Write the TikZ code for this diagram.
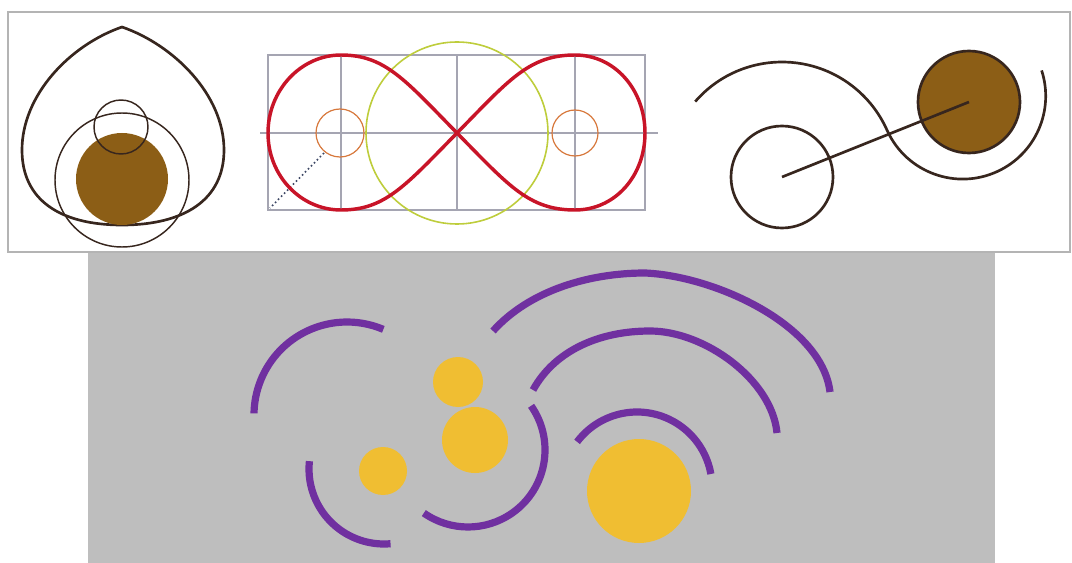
\documentclass[tikz,border=0pt]{standalone}
\definecolor{dkbrown}{RGB}{55,38,30}
\definecolor{brownfill}{RGB}{140,94,22}
\definecolor{gridc}{RGB}{165,165,178}
\definecolor{purp}{RGB}{112,48,160}
\definecolor{yel}{RGB}{240,190,50}
\definecolor{framec}{RGB}{180,180,180}
\definecolor{bgc}{RGB}{190,190,190}
\definecolor{greenc}{RGB}{190,205,60}
\definecolor{orangec}{RGB}{215,120,60}
\definecolor{dotc}{RGB}{60,70,100}
\definecolor{redc}{RGB}{200,20,40}
\begin{document}
\begin{tikzpicture}[x=0.75pt,y=-0.75pt,
  thick1/.style={draw=dkbrown,line width=2pt},
  thin1/.style={draw=dkbrown,line width=1.1pt},
  grid/.style={draw=gridc,line width=0.9pt},
  purpline/.style={draw=purp,line width=5.4pt},
  yelfill/.style={fill=yel}]
\useasboundingbox (0,0) rectangle (1072,563);
% frames
\draw[draw=framec,line width=0.8pt] (8,12) rectangle (1070,252);
\fill[bgc] (88,253) rectangle (995,563);

% ---- panel 1
\draw[thick1] (122,27) .. controls (70,45) and (22,95) .. (22,150)
  .. controls (22,200) and (60,225) .. (122,225)
  .. controls (184,225) and (224,200) .. (224,150)
  .. controls (224,95) and (174,45) .. (122,27) -- cycle;
\draw[thin1] (122,180) circle[radius=67];
\fill[brownfill] (122,179) circle[radius=46];
\draw[thin1] (121,127) circle[radius=27];

% ---- panel 2
\draw[grid] (268,55) rectangle (645,210);
\foreach \gx in {341,457,575} \draw[grid] (\gx,55) -- (\gx,210);
\draw[grid] (260,133) -- (658,133);
\draw[draw=greenc,line width=1.2pt] (457,133) circle[radius=91];
\draw[draw=orangec,line width=0.9pt] (340,133) circle[radius=24];
\draw[draw=orangec,line width=0.9pt] (575,133) circle[radius=23];
\draw[draw=dotc,line width=1.2pt,dotted] (324,153) -- (270,208);
\draw[draw=redc,line width=2.6pt]
  (457,133) .. controls (405,80) and (385,55) .. (341,55)
  .. controls (301,55) and (268,90) .. (268,133)
  .. controls (268,176) and (301,210) .. (341,210)
  .. controls (385,210) and (405,186) .. (457,133)
  .. controls (509,80) and (529,55) .. (575,55)
  .. controls (615,55) and (645,90) .. (645,133)
  .. controls (645,176) and (615,210) .. (575,210)
  .. controls (529,210) and (509,186) .. (457,133);

% ---- panel 3
\coordinate (sc) at (782,177);
\coordinate (bc) at (969,102);
\draw[thick1] ([shift={(-139:115)}]sc) arc[start angle=-139, end angle=-23.5, radius=115]
  arc[start angle=155, end angle=-18, radius=83];
\fill[brownfill] (bc) circle[radius=51];
\draw[thick1] (bc) circle[radius=51];
\draw[thick1] (sc) circle[radius=51];
\draw[thick1] (sc) -- (bc);

% ---- bottom panel
\fill[yelfill] (458,382) circle[radius=25];
\fill[yelfill] (475,440) circle[radius=33];
\fill[yelfill] (383,471) circle[radius=24];
\fill[yelfill] (639,491) circle[radius=52];
\draw[purpline] ([shift={(-179:93)}]347,415) arc[start angle=-179, end angle=-67, radius=93];
\draw[purpline] ([shift={(186:75)}]384,469) arc[start angle=186, end angle=85, radius=75];
\draw[purpline] ([shift={(-35:77)}]468,450) arc[start angle=-35, end angle=125, radius=77];
\draw[purpline] ([shift={(-143:75)}]637,487) arc[start angle=-143, end angle=-10, radius=75];
\draw[purpline] (493,331) .. controls (530,290) and (590,273) .. (645,273)
  .. controls (715,276) and (822,325) .. (830,392);
\draw[purpline] (533,390) .. controls (555,350) and (600,331) .. (650,331)
  .. controls (705,331) and (772,380) .. (777,433);
\end{tikzpicture}
\end{document}
